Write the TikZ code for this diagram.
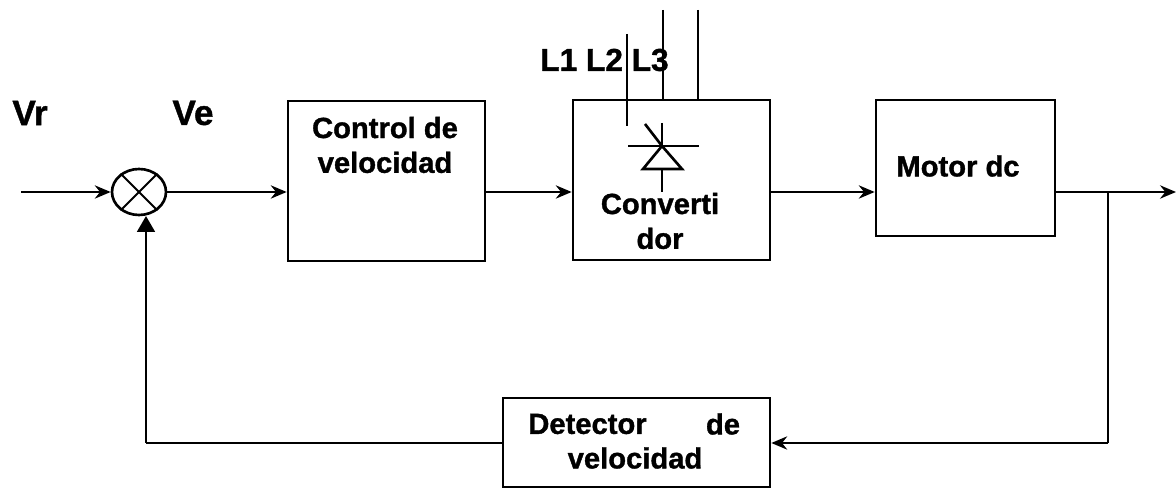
\documentclass[tikz,border=0pt]{standalone}
\usepackage{fontspec}
\setmainfont{Liberation Sans}[BoldFeatures={FakeBold=1.2}]
\usetikzlibrary{calc, shapes.geometric, arrows.meta}

\tikzset{
    block/.style = {draw, black, line width = 1.5pt, inner sep = 0pt},
    boxtext/.style = {align = center, font = \fontsize{16.6}{19.8}\selectfont\bfseries},
    bigtext/.style = {boxtext, font = \fontsize{20}{24}\selectfont\bfseries},
    linetext/.style = {boxtext, font = \fontsize{18}{22}\selectfont\bfseries},
    wire/.style = {black, line width = 1.5pt},
    signal/.style = {wire, -{Stealth[length = 9pt, width = 7.5pt]}},
    bigsignal/.style = {wire, -{Stealth[length = 9pt, width = 10pt, inset = 0pt]}}
}

\begin{document}
\begin{tikzpicture}[x = 0.2mm, y = -0.2mm]
            \useasboundingbox (0, 0) rectangle (1176, 489);

            \coordinate (input) at (21, 192);
            \coordinate (output) at (1176, 192);
            \coordinate (branch) at (1108, 192);
            \coordinate (return) at (1108, 443);
            \coordinate (corner) at (146, 443);

            \node[block, ellipse, minimum width = 54*0.2mm, minimum height = 46*0.2mm] (sum) at (139, 192) {};
            \node[block, minimum width = 197*0.2mm, minimum height = 160*0.2mm] (control) at (386.5, 181) {};
            \node[block, minimum width = 197*0.2mm, minimum height = 160*0.2mm] (conv) at (671.5, 180) {};
            \node[block, minimum width = 179*0.2mm, minimum height = 136*0.2mm] (motor) at (965.5, 168) {};
            \node[block, minimum width = 267*0.2mm, minimum height = 89*0.2mm] (detector) at (636.5, 442.5) {};

            % text
            \node[bigtext] (vr) at (30, 113) {Vr};
            \node[bigtext] (ve) at (193, 113) {Ve};
            \node[boxtext] (textcontrol) at (385, 145) {Control de\\velocidad};
            \node[linetext] (lines) at (604.5, 60) {L1 L2 L3};
            \node[boxtext] (textconv) at (660, 221) {Converti\\dor};
            \node[boxtext] (textmotor) at (958, 166) {Motor dc};
            \node[boxtext] (det1) at (587.5, 424) {Detector};
            \node[boxtext] (det2) at (723, 424) {de};
            \node[boxtext] (det3) at (635, 458) {velocidad};

            % summing point
            \draw[wire, line width = 1.1pt] (sum.45) -- (sum.225);
            \draw[wire, line width = 1.1pt] (sum.135) -- (sum.315);

            % forward path
            \draw[signal] (input) -- (sum);
            \draw[signal] (sum) -- (control.west |- sum);
            \draw[signal] (control.east |- sum) -- (conv.west |- sum);
            \draw[signal] (conv.east |- sum) -- (motor.west |- sum);
            \draw[signal] (motor.east |- sum) -- (output);

            % feedback
            \draw[wire] (branch) -- (return);
            \draw[signal] (return) -- (detector.east |- return);
            \draw[wire] (detector.west |- corner) -- (corner);
            \draw[bigsignal] (corner) -- (146, 216);

            % supply lines
            \draw[wire] (627, 34) -- (627, 126);
            \draw[wire] (663, 10) -- (663, 100);
            \draw[wire] (698, 10) -- (698, 100);

            % thyristor
            \draw[wire] (628, 146) -- (699, 146);
            \draw[wire] (662, 123) -- (662, 146);
            \draw[wire] (645, 124) -- (662, 146);
            \draw[wire] (662, 146) -- (643, 169) -- (682, 169) -- cycle;
            \draw[wire] (662, 169) -- (662, 192);
        \end{tikzpicture}
\end{document}
